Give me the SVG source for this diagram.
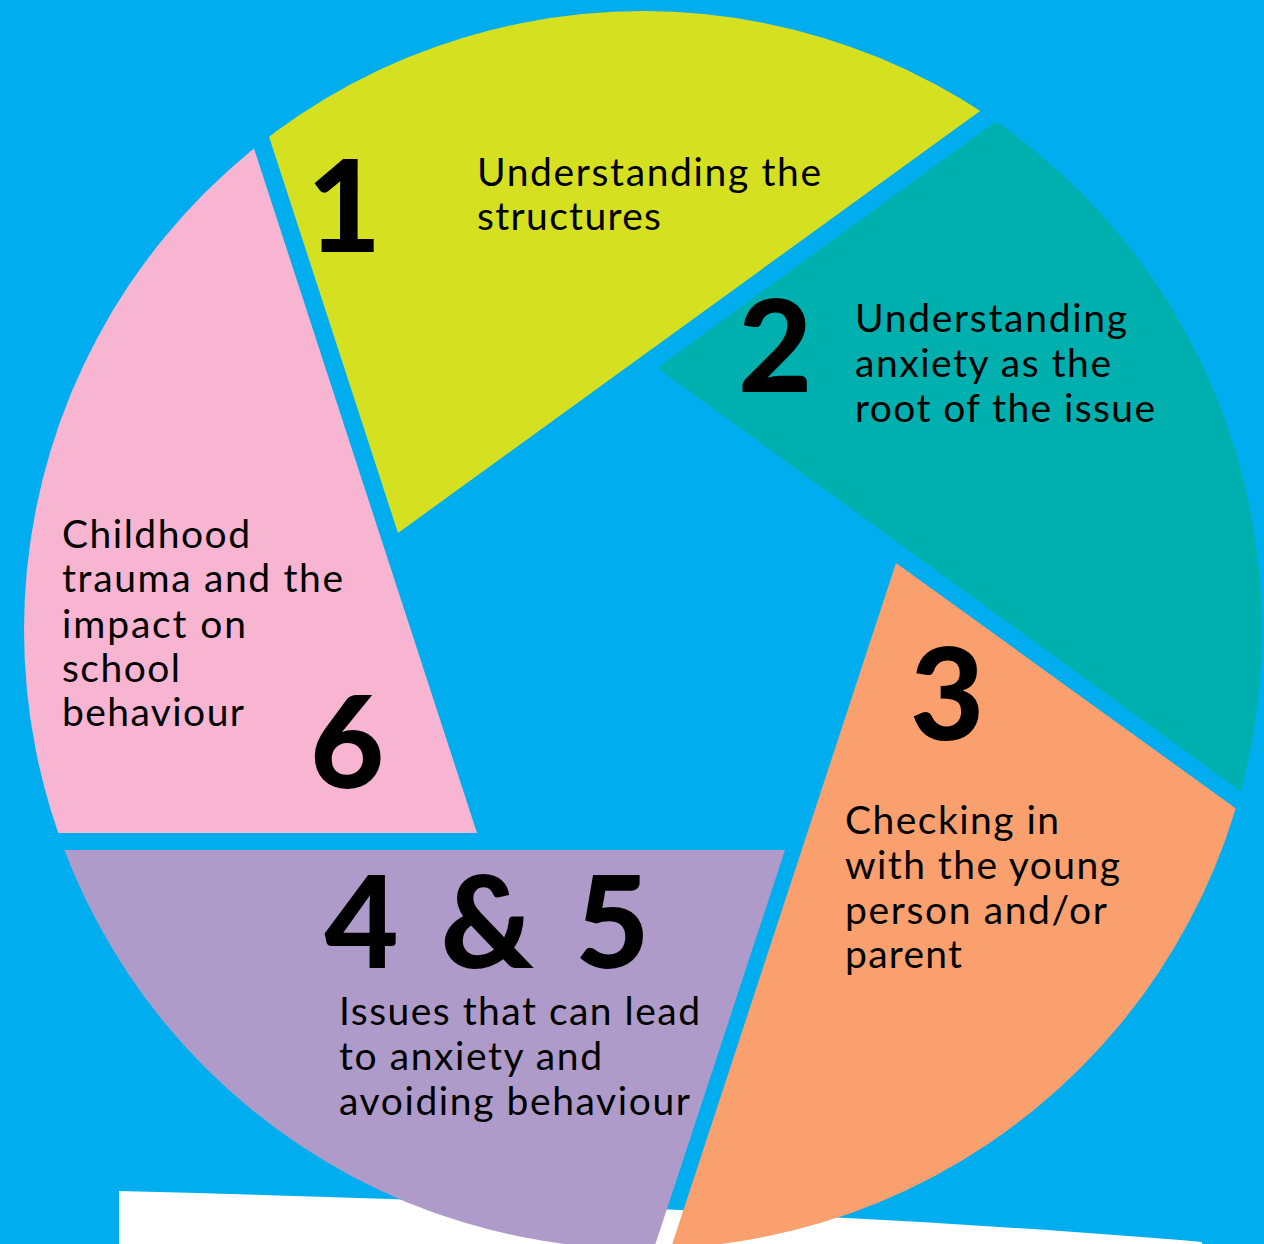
<svg xmlns="http://www.w3.org/2000/svg" width="1264" height="1244" viewBox="0 0 1264 1244">
<style>
.num{font-family:Lato,"Liberation Sans",sans-serif;font-weight:900;font-size:128px;fill:#000;text-anchor:middle}
.txt{font-family:Lato,"Liberation Sans",sans-serif;font-weight:400;font-size:39px;fill:#000}
</style>
<defs>
<clipPath id="disc"><circle cx="643" cy="630" r="619"/></clipPath>
</defs>
<rect x="0" y="0" width="1264" height="1244" fill="#00AEEF"/>
<path id="paper" d="M119,1191 C500,1201 900,1216 1202,1242 L1202,1260 L119,1260 Z" fill="#FFFFFF"/>
<g clip-path="url(#disc)">
<g id="seg1"><polygon points="398,533 192,-100 1300,-121" fill="#D5E021"/></g>
<g id="seg2"><polygon points="657,368 1400,-173 1400,907" fill="#00B0AE"/></g>
<g id="seg3"><polygon points="896,563 1400,927 1400,1400 621,1400" fill="#F9A06E"/></g>
<g id="seg45"><polygon points="-100,850 785,850 637,1300 -100,1300" fill="#AE9BC9"/></g>
<g id="seg6"><polygon points="477,833 173,-100 -100,-100 -100,833" fill="#F7B5D2"/></g>
</g>
<g id="connectors"></g>
<g id="label1">
<text class="num" x="344" y="252">1</text>
<text class="txt" x="477" y="186" textLength="344" lengthAdjust="spacing">Understanding the</text>
<text class="txt" x="477" y="230" textLength="184" lengthAdjust="spacing">structures</text>
</g>
<g id="label2">
<text class="num" x="775" y="392">2</text>
<text class="txt" x="855" y="332" textLength="272" lengthAdjust="spacing">Understanding</text>
<text class="txt" x="855" y="377" textLength="256" lengthAdjust="spacing">anxiety as the</text>
<text class="txt" x="855" y="422" textLength="300" lengthAdjust="spacing">root of the issue</text>
</g>
<g id="label3">
<text class="num" x="947" y="740">3</text>
<text class="txt" x="845" y="834" textLength="214" lengthAdjust="spacing">Checking in</text>
<text class="txt" x="845" y="879" textLength="275" lengthAdjust="spacing">with the young</text>
<text class="txt" x="845" y="924" textLength="262" lengthAdjust="spacing">person and/or</text>
<text class="txt" x="845" y="968" textLength="117" lengthAdjust="spacing">parent</text>
</g>
<g id="label45">
<text class="num" x="487" y="968" textLength="325" lengthAdjust="spacing">4 &amp; 5</text>
<text class="txt" x="339" y="1025" textLength="361" lengthAdjust="spacing">Issues that can lead</text>
<text class="txt" x="339" y="1070" textLength="263" lengthAdjust="spacing">to anxiety and</text>
<text class="txt" x="339" y="1115" textLength="351" lengthAdjust="spacing">avoiding behaviour</text>
</g>
<g id="label6">
<text class="num" x="347" y="788">6</text>
<text class="txt" x="62" y="548" textLength="188" lengthAdjust="spacing">Childhood</text>
<text class="txt" x="62" y="592" textLength="281" lengthAdjust="spacing">trauma and the</text>
<text class="txt" x="62" y="638" textLength="184" lengthAdjust="spacing">impact on</text>
<text class="txt" x="62" y="682" textLength="118" lengthAdjust="spacing">school</text>
<text class="txt" x="62" y="726" textLength="182" lengthAdjust="spacing">behaviour</text>
</g>
</svg>
